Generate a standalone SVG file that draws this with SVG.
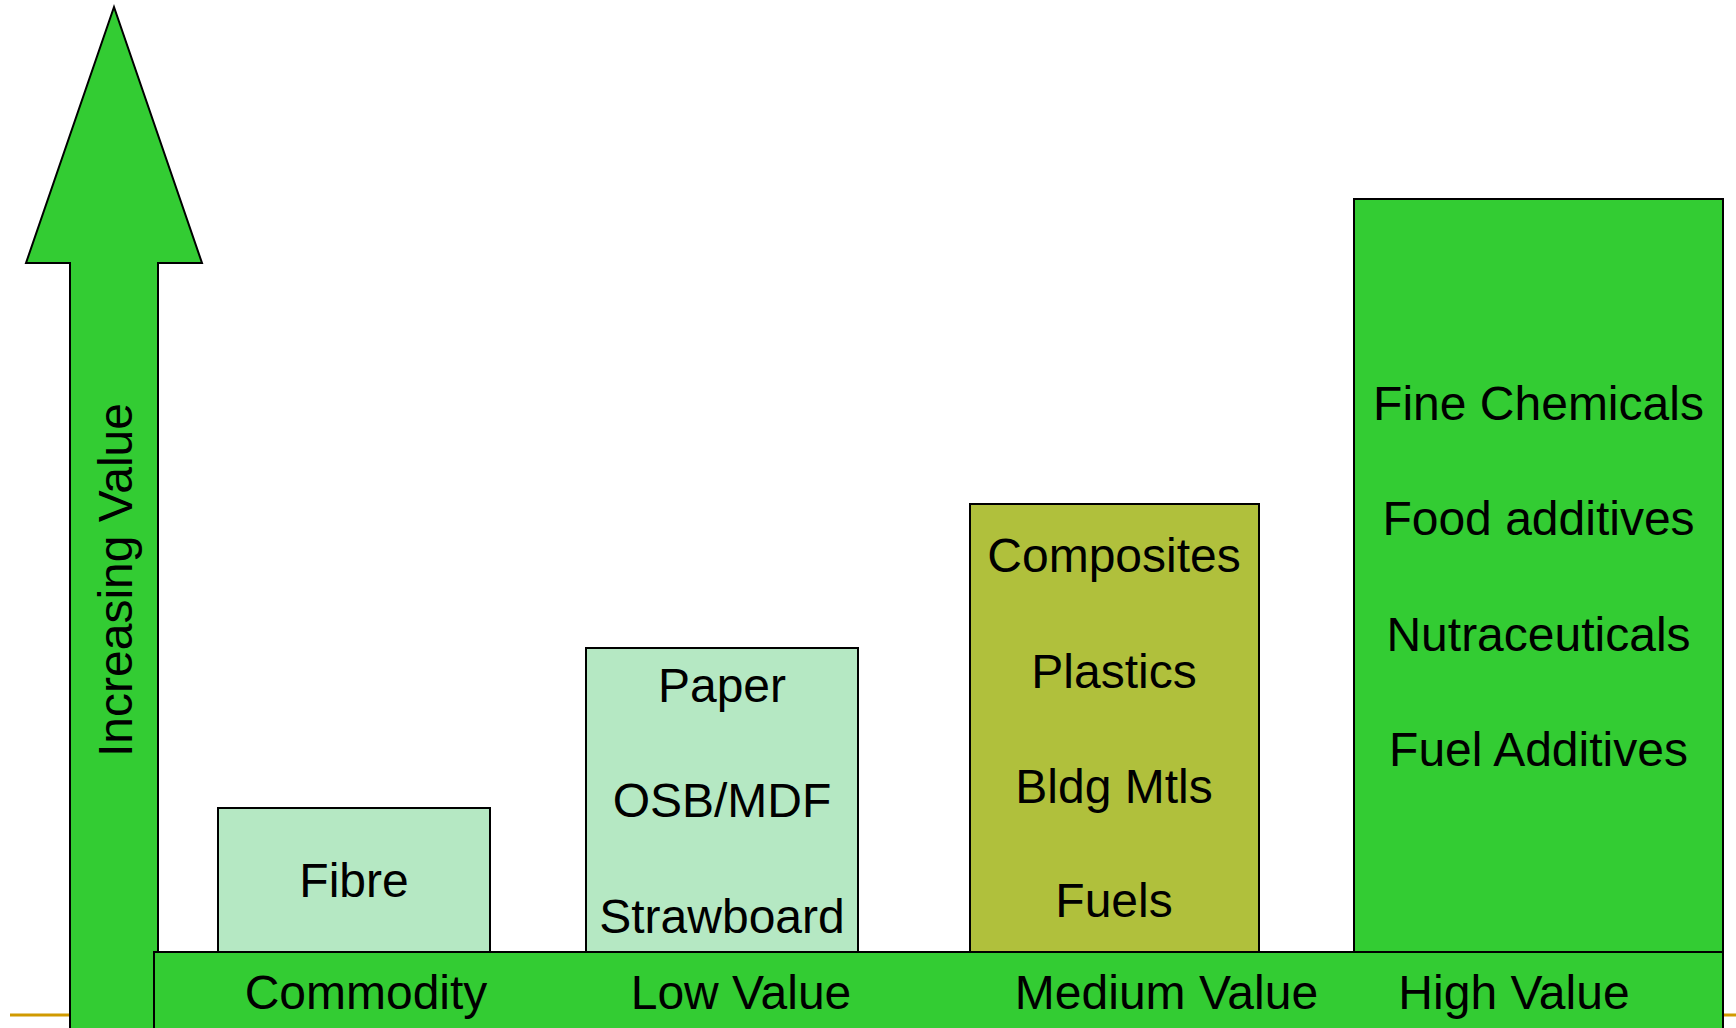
<svg xmlns="http://www.w3.org/2000/svg" width="1736" height="1028" viewBox="0 0 1736 1028">
<style>
.t{font-family:"Liberation Sans",Arial,sans-serif;font-size:48px;fill:#000;text-anchor:middle}
.bx{stroke:#000;stroke-width:2}
.g{fill:#33CC33}
.lg{fill:#B5E8C3}
.ol{fill:#B0C03C}
</style>
<rect x="0" y="0" width="1736" height="1028" fill="#fff"/>
<line x1="10" y1="1015" x2="1736" y2="1015" stroke="#D09A00" stroke-width="3"/>
<g id="arrow">
<polygon class="g bx" points="114,7 202,263 158,263 158,1040 70,1040 70,263 26,263"/>
<text class="t" transform="translate(132,580) rotate(-90)">Increasing Value</text>
</g>
<g id="commodity-box">
<rect class="lg bx" x="218" y="808" width="272" height="144"/>
<text class="t" x="354" y="897">Fibre</text>
</g>
<g id="low-box">
<rect class="lg bx" x="586" y="648" width="272" height="304"/>
<text class="t" x="722" y="702">Paper</text>
<text class="t" x="722" y="817">OSB/MDF</text>
<text class="t" x="722" y="933">Strawboard</text>
</g>
<g id="medium-box">
<rect class="ol bx" x="970" y="504" width="289" height="448"/>
<text class="t" x="1114" y="572">Composites</text>
<text class="t" x="1114" y="688">Plastics</text>
<text class="t" x="1114" y="803">Bldg Mtls</text>
<text class="t" x="1114" y="917">Fuels</text>
</g>
<g id="high-box">
<rect class="g bx" x="1354" y="199" width="369" height="753"/>
<text class="t" x="1538.5" y="420">Fine Chemicals</text>
<text class="t" x="1538.5" y="535">Food additives</text>
<text class="t" x="1538.5" y="651">Nutraceuticals</text>
<text class="t" x="1538.5" y="766">Fuel Additives</text>
</g>
<g id="axis-bar">
<rect class="g bx" x="154" y="952" width="1569" height="90"/>
<text class="t" x="366" y="1009">Commodity</text>
<text class="t" x="741" y="1009">Low Value</text>
<text class="t" x="1166.5" y="1009">Medium Value</text>
<text class="t" x="1514" y="1009">High Value</text>
</g>
<g id="connectors"></g>
</svg>
